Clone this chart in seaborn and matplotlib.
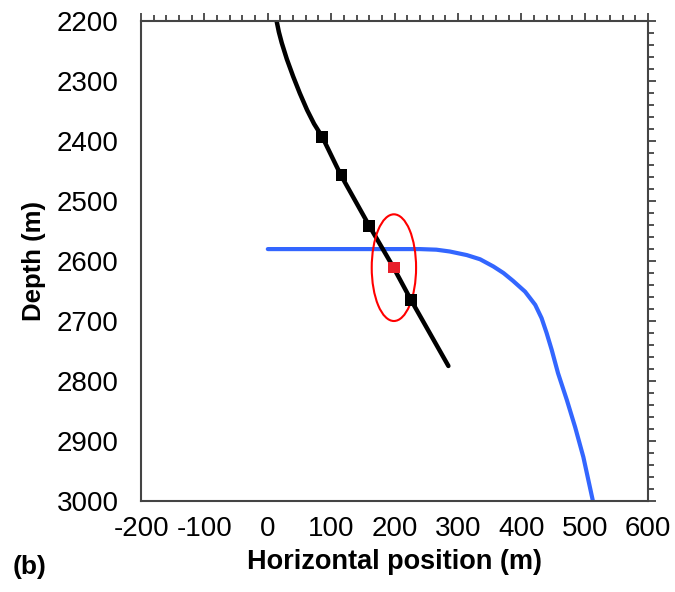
import matplotlib
matplotlib.use("Agg")
import matplotlib.pyplot as plt
from matplotlib.patches import Ellipse
from matplotlib.ticker import MultipleLocator
import numpy as np
import pandas as pd
import seaborn as sns

# well trajectory (black)
well_x = [14, 17.5, 22, 30, 40, 50.5, 62, 73, 86, 115, 160, 198, 226, 285]
well_y = [2200, 2218, 2236, 2263, 2292, 2320, 2348, 2371, 2393, 2456, 2541, 2610, 2665, 2775]

# survey stations on the well
station_x = [86, 116, 160, 226]
station_y = [2393, 2456, 2541, 2665]

# estimated position and its uncertainty
est_x = [199]
est_y = [2611]
ell_w = 70
ell_h = 178

# second well (blue)
blue_x = [0, 208, 240, 266, 287, 314, 335, 356, 372, 387, 406, 422,
          432, 440, 448, 458, 472, 485, 498, 513]
blue_y = [2580, 2580, 2580, 2581, 2584, 2590, 2597, 2609, 2620, 2633, 2651,
          2673, 2695, 2720, 2748, 2787, 2832, 2877, 2927, 3000]

sns.set_style("white")
plt.rcParams["font.family"] = ["Liberation Sans", "DejaVu Sans"]
plt.rcParams.update({
    "text.color": "black",
    "axes.labelcolor": "black",
    "xtick.color": "#333333",
    "ytick.color": "#333333",
    "xtick.labelcolor": "black",
    "ytick.labelcolor": "black",
    "axes.unicode_minus": False,
})

fig = plt.figure(figsize=(6.75, 5.92), dpi=100)
ax = fig.add_axes([0.209, 0.154, 0.751, 0.81])

well = pd.DataFrame({"x": well_x, "y": well_y})
blue = pd.DataFrame({"x": blue_x, "y": blue_y})
sns.lineplot(data=blue, x="x", y="y", sort=False, color="#3366ff", lw=3,
             solid_joinstyle="round", ax=ax)
sns.lineplot(data=well, x="x", y="y", sort=False, color="black", lw=3.2,
             solid_joinstyle="round", solid_capstyle="round", ax=ax)
sns.scatterplot(x=station_x, y=station_y, marker="s", s=70, color="black",
                edgecolor="none", ax=ax, zorder=5)
sns.scatterplot(x=est_x, y=est_y, marker="s", s=70, color="#e8202a",
                edgecolor="none", ax=ax, zorder=5)
ax.add_patch(Ellipse((est_x[0], est_y[0]), ell_w, ell_h, fill=False,
                     edgecolor="red", lw=1.5, zorder=4))

ax.set_xlim(-200, 600)
ax.set_ylim(3000, 2200)
ax.xaxis.set_major_locator(MultipleLocator(100))
ax.xaxis.set_minor_locator(MultipleLocator(20))
ax.yaxis.set_major_locator(MultipleLocator(100))
ax.yaxis.set_minor_locator(MultipleLocator(20))
ax.tick_params(which="both", direction="out", top=True, right=True,
               labeltop=False, labelright=False, width=1.2)
ax.tick_params(which="major", length=6, labelsize=20)
ax.tick_params(axis="x", which="major", pad=5)
ax.tick_params(axis="y", which="major", pad=10)
ax.tick_params(which="minor", length=4)
for sp in ax.spines.values():
    sp.set_color("#444444")
    sp.set_linewidth(1.5)

ax.set_xlabel("Horizontal position (m)", fontsize=19.5, fontweight="bold", labelpad=5)
ax.set_ylabel("Depth (m)", fontsize=18.5, fontweight="bold", labelpad=8)
fig.text(0.018, 0.03, "(b)", fontsize=19, fontweight="bold")

fig.savefig("out.png", dpi=100)
